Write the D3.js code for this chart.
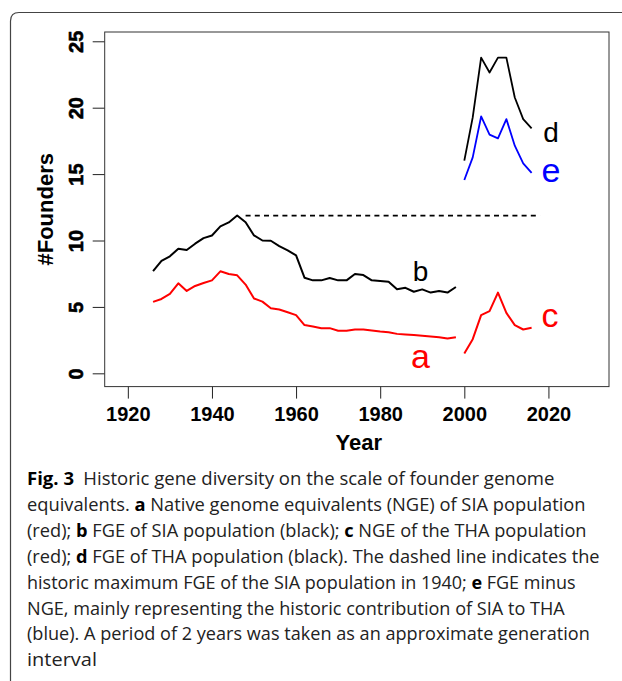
<!DOCTYPE html>
<html>
<head>
<meta charset="utf-8">
<script src="https://cdn.jsdelivr.net/npm/d3@7"></script>
<style>
  body { margin: 0; background: #fff; }
  svg { display: block; }
  .tick text { font-family: "Liberation Sans", Arial, sans-serif; font-weight: bold; font-size: 20px; fill: #000; }
  .tick line { stroke: #222; stroke-width: 1; }
  .axisTitle { font-family: "Liberation Sans", Arial, sans-serif; font-weight: bold; font-size: 22px; }
  .seriesLabel { font-family: "Liberation Sans", Arial, sans-serif; }
  .caption { font-family: "Open Sans", "Noto Sans", sans-serif; font-size: 18px; fill: #222; }
</style>
</head>
<body>
<div id="chart"></div>
<script>
const yearsSIA = [1926, 1928, 1930, 1932, 1934, 1936, 1938, 1940, 1942, 1944, 1946, 1948, 1950, 1952, 1954, 1956, 1958, 1960, 1962,
    1964, 1966, 1968, 1970, 1972, 1974, 1976, 1978, 1980, 1982, 1984, 1986, 1988, 1990, 1992, 1994, 1996, 1998]
const ngeSIA = [5.38, 5.6, 5.98, 6.78, 6.2, 6.58, 6.8, 7.0, 7.68, 7.48, 7.38, 6.68, 5.63, 5.4, 4.9, 4.8, 4.6, 4.38, 3.63,
    3.53, 3.4, 3.4, 3.2, 3.2, 3.3, 3.3, 3.22, 3.15, 3.1, 2.97, 2.93, 2.88, 2.82, 2.77, 2.72, 2.62, 2.72]
const fgeSIA = [7.7, 8.46, 8.81, 9.38, 9.28, 9.76, 10.18, 10.38, 11.06, 11.36, 11.88, 11.38, 10.38, 10.0, 9.98, 9.58, 9.26, 8.88, 7.2,
    7.0, 7.0, 7.18, 7.0, 7.0, 7.48, 7.4, 7.0, 6.95, 6.9, 6.33, 6.44, 6.14, 6.32, 6.08, 6.19, 6.08, 6.5]
const yearsTHA = [2000, 2002, 2004, 2006, 2008, 2010, 2012, 2014, 2016]
const ngeTHA = [1.5, 2.57, 4.38, 4.68, 6.08, 4.55, 3.63, 3.3, 3.43]
const fgeTHA = [16.01, 19.27, 23.77, 22.65, 23.77, 23.77, 20.77, 19.14, 18.44]
const diffTHA = [14.56, 16.26, 19.34, 17.97, 17.69, 19.14, 17.14, 15.81, 15.09]
const maxLineYears = [1948, 2018]
const maxFGE = 11.88
const xTicks = [1920, 1940, 1960, 1980, 2000, 2020]
const yTicks = [0, 5, 10, 15, 20, 25]
const labelNames = ["a", "b", "c", "d", "e"]
const labelYears = [1989.6, 1989.6, 2020.4, 2020.6, 2020.6]
const labelValues = [0.4, 6.93, 3.48, 17.44, 14.38]

const captionLines = [
    [["Fig. 3", true], ["\u2002Historic gene diversity on the scale of founder genome", false]],
    [["equivalents. ", false], ["a", true], [" Native genome equivalents (NGE) of SIA population", false]],
    [["(red); ", false], ["b", true], [" FGE of SIA population (black); ", false], ["c", true], [" NGE of the THA population", false]],
    [["(red); ", false], ["d", true], [" FGE of THA population (black). The dashed line indicates the", false]],
    [["historic maximum FGE of the SIA population in 1940; ", false], ["e", true], [" FGE minus", false]],
    [["NGE, mainly representing the historic contribution of SIA to THA", false]],
    [["(blue). A period of 2 years was taken as an approximate generation", false]],
    [["interval", false]]
]
const captionEnds = [555, 586, 587, 600, 576, 565, 590, 97]

const width = 622
const height = 681
const plot = { left: 104.7, right: 609, top: 32, bottom: 386.6 }

const svg = d3.select("#chart").append("svg")
    .attr("width", width)
    .attr("height", height)

svg.append("path")
    .attr("d", "M622,12.5 H19 Q10.5,12.5 10.5,21 V681")
    .attr("fill", "none")
    .attr("stroke", "#444")
    .attr("stroke-width", 1.2)

const x = d3.scaleLinear().domain([1914.5, 2034.4]).range([plot.left, plot.right])
const y = d3.scaleLinear().domain([-1, 25.7]).range([plot.bottom, plot.top])

const xAxis = svg.append("g")
    .attr("transform", `translate(0,${plot.bottom})`)
    .call(d3.axisBottom(x).tickValues(xTicks).tickFormat(d3.format("d")).tickSize(12).tickPadding(8))
xAxis.select(".domain").remove()

const yAxis = svg.append("g")
    .attr("transform", `translate(${plot.left},0)`)
    .call(d3.axisLeft(y).tickValues(yTicks).tickSize(12))
yAxis.select(".domain").remove()
yAxis.selectAll(".tick text")
    .attr("x", 0)
    .attr("y", -21.7)
    .attr("dy", 0)
    .attr("text-anchor", "middle")
    .attr("stroke", "#000")
    .attr("stroke-width", 0.6)
    .attr("transform", "rotate(-90)")

svg.append("rect")
    .attr("x", plot.left)
    .attr("y", plot.top)
    .attr("width", plot.right - plot.left)
    .attr("height", plot.bottom - plot.top)
    .attr("fill", "none")
    .attr("stroke", "#333")
    .attr("stroke-width", 1)

svg.append("text")
    .classed("axisTitle", true)
    .attr("x", (plot.left + plot.right) / 2 + 2)
    .attr("y", 450)
    .attr("text-anchor", "middle")
    .text("Year")

svg.append("text")
    .classed("axisTitle", true)
    .attr("transform", `translate(53,${(plot.top + plot.bottom) / 2}) rotate(-90)`)
    .attr("text-anchor", "middle")
    .text("#Founders")

const line = d3.line().x(d => x(d[0])).y(d => y(d[1]))
const series = [
    { years: yearsSIA, values: ngeSIA, color: "#ff0000", w: 2 },
    { years: yearsSIA, values: fgeSIA, color: "#000000", w: 2 },
    { years: yearsTHA, values: ngeTHA, color: "#ff0000", w: 2 },
    { years: yearsTHA, values: fgeTHA, color: "#000000", w: 1.8 },
    { years: yearsTHA, values: diffTHA, color: "#0000ff", w: 1.8 }
]

svg.append("g").selectAll("path").data(series).enter().append("path")
    .attr("d", s => line(d3.zip(s.years, s.values)))
    .attr("fill", "none")
    .attr("stroke", s => s.color)
    .attr("stroke-width", s => s.w)
    .attr("stroke-linejoin", "round")

svg.append("line")
    .attr("x1", x(maxLineYears[0]))
    .attr("x2", x(maxLineYears[1]))
    .attr("y1", y(maxFGE))
    .attr("y2", y(maxFGE))
    .attr("stroke", "#000")
    .attr("stroke-width", 1.8)
    .attr("stroke-dasharray", "5,4.2")

const labelColors = ["#ff0000", "#000000", "#ff0000", "#000000", "#0000ff"]
const labelSizes = [34, 28, 34, 28, 34]
svg.append("g").selectAll("text").data(labelNames).enter().append("text")
    .classed("seriesLabel", true)
    .attr("x", (d, i) => x(labelYears[i]))
    .attr("y", (d, i) => y(labelValues[i]))
    .attr("text-anchor", "middle")
    .attr("font-size", (d, i) => labelSizes[i])
    .attr("fill", (d, i) => labelColors[i])
    .text(d => d)

const capStart = 27
const capTop = 485
const capStep = 25.9
captionLines.forEach((segs, i) => {
    const t = svg.append("text")
        .classed("caption", true)
        .attr("xml:space", "preserve")
    segs.forEach(s => {
        t.append("tspan")
            .attr("font-weight", s[1] ? "bold" : "normal")
            .attr("fill", s[1] ? "#000" : null)
            .text(s[0])
    })
    const natural = t.node().getComputedTextLength()
    const sx = (captionEnds[i] - capStart) / natural
    t.attr("transform", `translate(${capStart},${capTop + i * capStep}) scale(${sx},1)`)
})
</script>
</body>
</html>
